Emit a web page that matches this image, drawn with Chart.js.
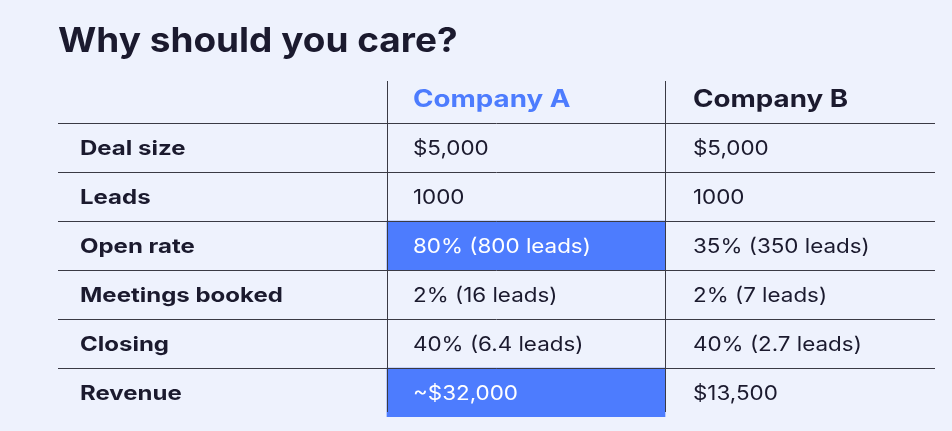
<!DOCTYPE html>
<html><head><meta charset="utf-8">
<script src="https://cdn.jsdelivr.net/npm/chart.js@4/dist/chart.umd.min.js"></script>
<style>html,body{margin:0;padding:0;background:#eef2fd;}#w{width:952px;height:431px;}</style>
</head><body><div id="w"><canvas id="c"></canvas></div>
<script>
const titleText = "Why should you care?";
const headers = ["", "Company A", "Company B"];
const rowLabels = ["Deal size", "Leads", "Open rate", "Meetings booked", "Closing", "Revenue"];
const companyA = ["$5,000", "1000", "80% (800 leads)", "2% (16 leads)", "40% (6.4 leads)", "~$32,000"];
const companyB = ["$5,000", "1000", "35% (350 leads)", "2% (7 leads)", "40% (2.7 leads)", "$13,500"];
const highlightedA = ["Open rate", "Revenue"];
const colEdges = [0, 329, 607, 877];

const cats = ["header", ...rowLabels];
const BLUE = "#4d7cfe", DARK = "#1b1a2e";

function wideText(ctx, t, x, y, sx) {
  ctx.save(); ctx.translate(x, y); ctx.scale(sx, 1); ctx.fillText(t, 0, 0); ctx.restore();
}

const tablePlugin = {
  id: "table",
  afterDatasetsDraw(chart) {
    const ctx = chart.ctx, xs = chart.scales.x, ys = chart.scales.y, a = chart.chartArea;
    const step = (a.bottom - a.top) / cats.length;
    ctx.save();
    ctx.fillStyle = DARK;
    ctx.font = "bold 34px Inter";
    ctx.textBaseline = "alphabetic";
    wideText(ctx, titleText, 58, 52, 1.087);
    ctx.strokeStyle = "#3a3a44"; ctx.lineWidth = 1;
    for (let i = 1; i < cats.length; i++) {
      const y = Math.round(ys.getPixelForValue(i) - step / 2) + 0.5;
      ctx.beginPath(); ctx.moveTo(a.left, y); ctx.lineTo(a.right, y); ctx.stroke();
    }
    [1, 2].forEach(k => {
      const x = Math.round(xs.getPixelForValue(colEdges[k])) + 0.5;
      ctx.beginPath(); ctx.moveTo(x, a.top + 7); ctx.lineTo(x, a.bottom - 5); ctx.stroke();
    });
    ctx.textBaseline = "middle";
    const x0 = xs.getPixelForValue(colEdges[0]) + 22;
    const x1 = xs.getPixelForValue(colEdges[1]) + 26;
    const x2 = xs.getPixelForValue(colEdges[2]) + 28;
    ctx.font = "bold 24px Inter";
    let yh = ys.getPixelForValue(0) + 1;
    ctx.fillStyle = BLUE; wideText(ctx, headers[1], x1, yh, 1.155);
    ctx.fillStyle = DARK; wideText(ctx, headers[2], x2, yh, 1.155);
    rowLabels.forEach((r, i) => {
      const y = ys.getPixelForValue(i + 1) + 1;
      ctx.font = "bold 20px Inter"; ctx.fillStyle = DARK;
      wideText(ctx, r, x0, y, 1.2);
      ctx.font = "20px Inter";
      ctx.fillStyle = highlightedA.includes(r) ? "#ffffff" : DARK;
      wideText(ctx, companyA[i], x1, y, 1.12);
      ctx.fillStyle = DARK;
      wideText(ctx, companyB[i], x2, y, 1.12);
    });
    ctx.restore();
  }
};

new Chart(document.getElementById("c"), {
  type: "bar",
  data: {
    labels: cats,
    datasets: [{
      data: cats.map(c => highlightedA.includes(c) ? [colEdges[1], colEdges[2]] : null),
      backgroundColor: BLUE, borderWidth: 0,
      barPercentage: 1, categoryPercentage: 1
    }]
  },
  options: {
    indexAxis: "y", responsive: true, maintainAspectRatio: false, animation: false,
    layout: { padding: { left: 58, right: 17, top: 74, bottom: 14 } },
    plugins: { legend: { display: false }, tooltip: { enabled: false }, title: { display: false } },
    scales: {
      x: { type: "linear", min: colEdges[0], max: colEdges[3], display: false },
      y: { display: false }
    }
  },
  plugins: [tablePlugin]
});
</script></body></html>
